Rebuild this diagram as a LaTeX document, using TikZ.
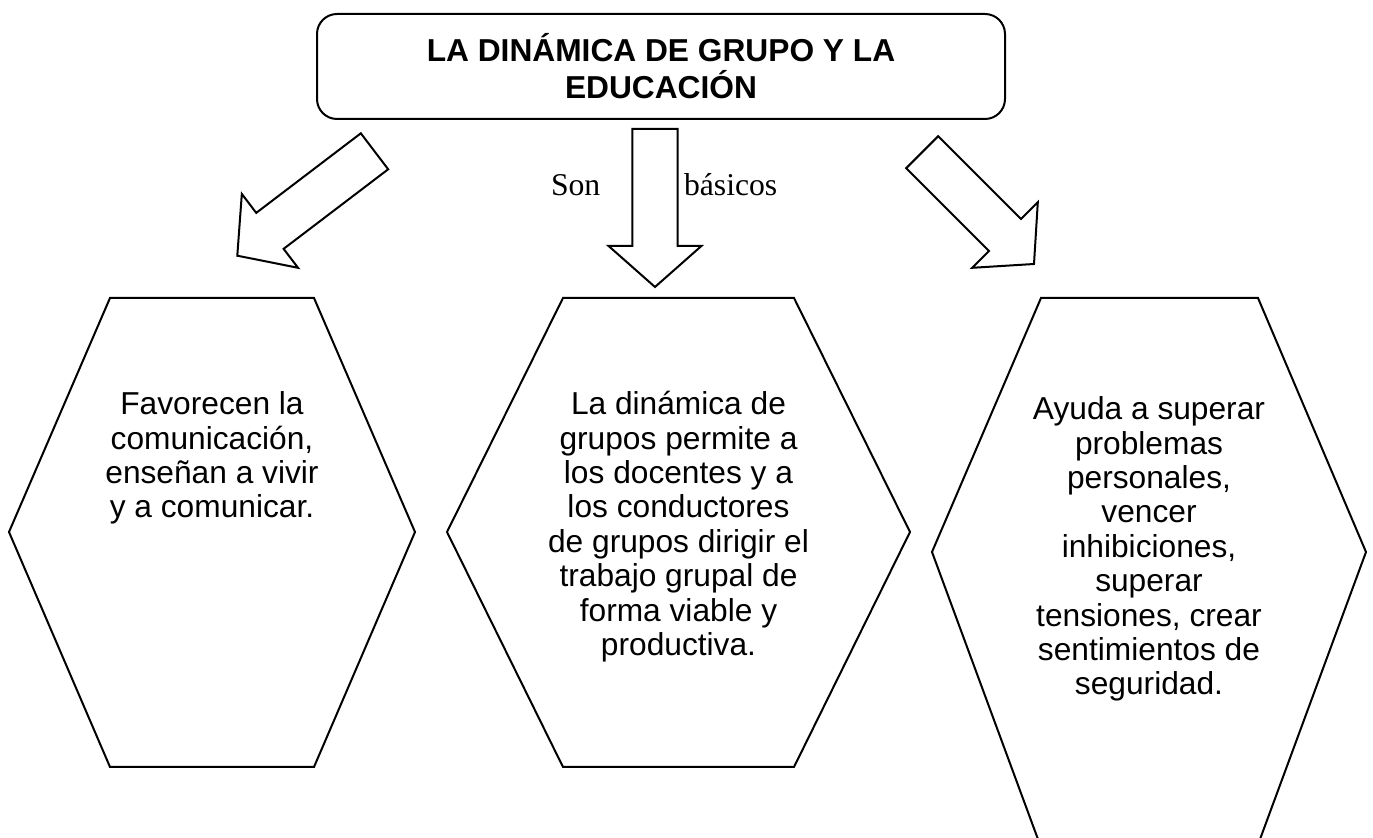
\documentclass[tikz,border=0pt]{standalone}
\usepackage{fontspec}
\setmainfont{Liberation Sans}
\newfontfamily\timesfont{Liberation Serif}
\usetikzlibrary{calc}

\begin{document}
\begin{tikzpicture}[x=0.5pt, y=-0.5pt, line width=1pt,
  font=\fontsize{15.85pt}{17.2pt}\selectfont,
  titlebox/.style={draw, rounded corners=10pt, minimum width=344pt, minimum height=52.5pt,
    align=center, font=\bfseries\fontsize{15.85pt}{18.5pt}\selectfont},
  hextext/.style={anchor=base, align=center, inner sep=0pt},
  arrowlabel/.style={anchor=base west, inner sep=0pt, font=\timesfont\fontsize{15.85pt}{17.2pt}\selectfont},
  blockarrow/.style={draw, line join=miter}]
\useasboundingbox (0,0) rectangle (1373,838);
%title
\node[titlebox] (title) at (661,66.5) {LA DIN\'AMICA DE GRUPO Y LA\\EDUCACI\'ON};
%hexagons
\draw (110,298) -- (314,298) -- (415,532) -- (314,767) -- (110,767) -- (9,532) -- cycle;
\draw (563,298) -- (794,298) -- (910,532) -- (794,767) -- (563,767) -- (447,532) -- cycle;
\draw (1041,298) -- (1258,298) -- (1366,552) -- (1259,842) -- (1039,842) -- (932,552) -- cycle;
%texts (base = last line)
\node[hextext] (favorecen) at (212,518) {Favorecen la\\comunicación,\\enseñan a vivir\\y a comunicar.};
\node[hextext] (dinamica) at (678.5,655.5) {La dinámica de\\grupos permite a\\los docentes y a\\los conductores\\de grupos dirigir el\\trabajo grupal de\\forma viable y\\productiva.};
\node[hextext] (ayuda) at (1149,695) {Ayuda a superar\\problemas\\personales,\\vencer\\inhibiciones,\\superar\\tensiones, crear\\sentimientos de\\seguridad.};
%arrows
\coordinate (t1) at (374.5,151.3);
\coordinate (p1) at (237.3,255.7);
\coordinate (t2) at (655,129);
\coordinate (p2) at (655,287);
\coordinate (t3) at (922.2,152.2);
\coordinate (p3) at (1034,264);
\foreach \t/\p in {t1/p1,t2/p2,t3/p3}{
  \coordinate (h) at ($(\p)!20.5pt!(\t)$);
  \draw[blockarrow] ($(\t)!11.3pt!90:(\p)$) -- ($(h)!11.3pt!90:(\p)$) -- ($(h)!23.2pt!90:(\p)$)
    -- (\p) -- ($(h)!23.2pt!-90:(\p)$) -- ($(h)!11.3pt!-90:(\p)$) -- ($(\t)!11.3pt!-90:(\p)$) -- cycle;
}
%labels
\node[arrowlabel] (son) at (550,196) {Son};
\node[arrowlabel] (basicos) at (683,196) {básicos};
\end{tikzpicture}
\end{document}
